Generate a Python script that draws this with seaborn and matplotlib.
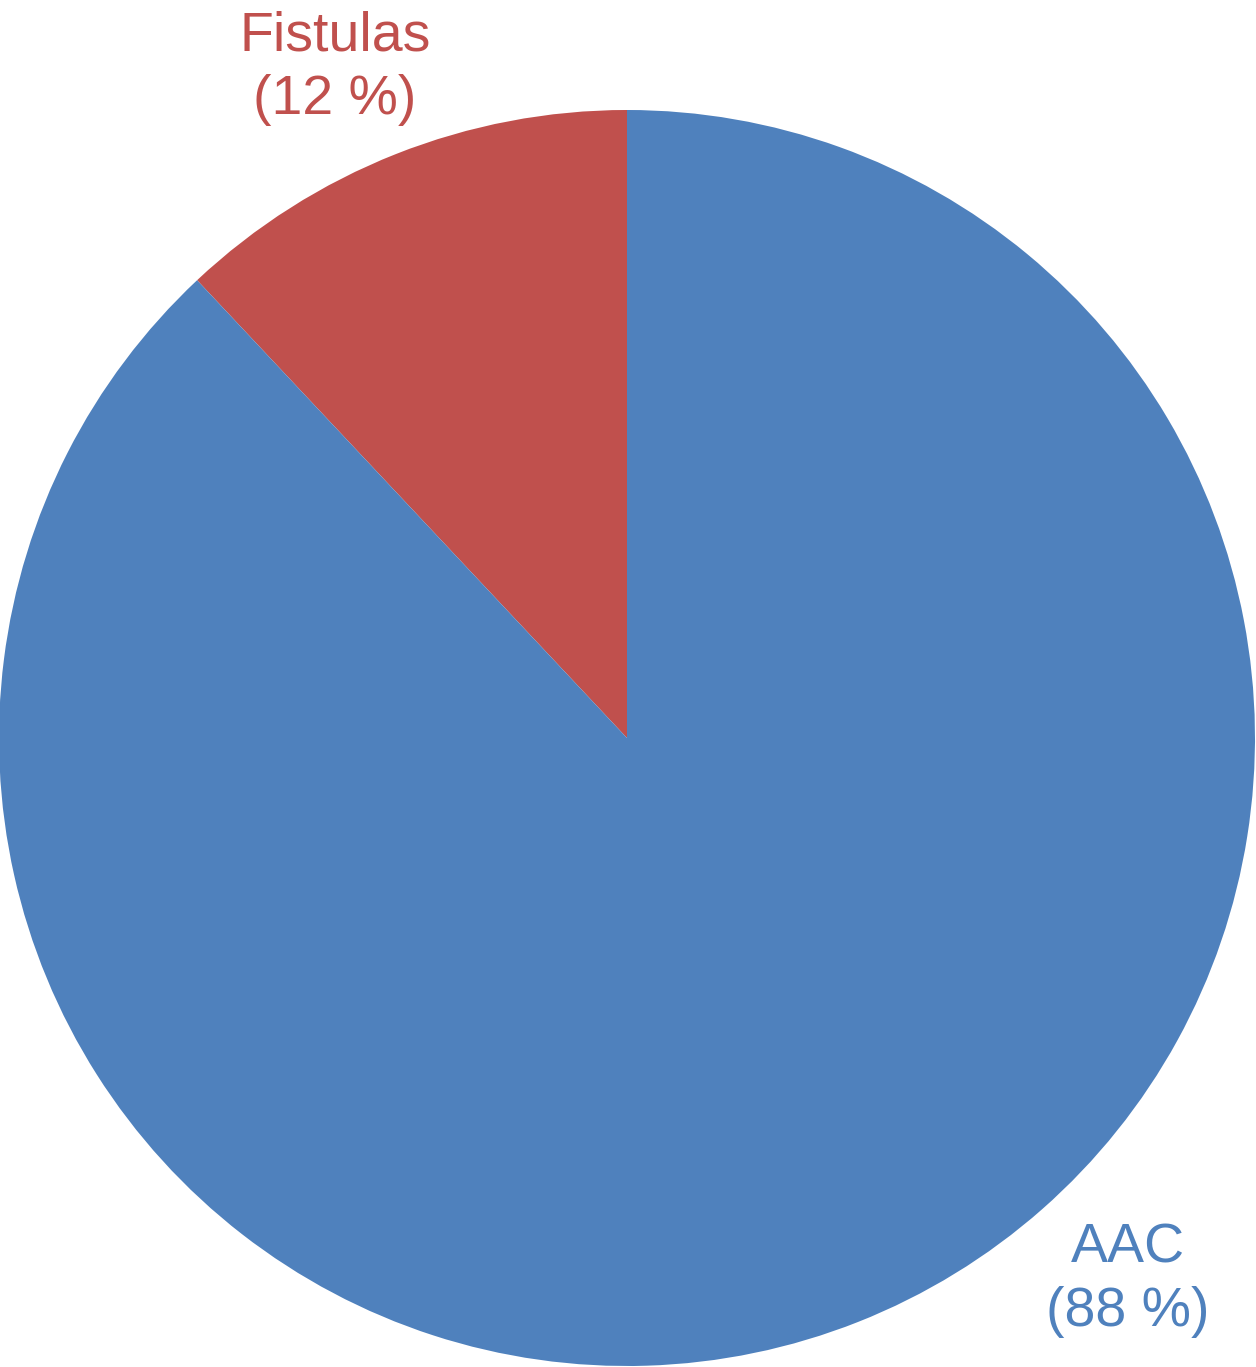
import seaborn as sns
import matplotlib.pyplot as plt

# --- dati ---
categorie = ['Fistulas', 'AAC']
percentuali = [12, 88]
colori = ['#C0504D', '#4F81BD']

sns.set_theme(style='white')
plt.rcParams['font.family'] = ['Liberation Sans', 'DejaVu Sans']

W, H = 1256, 1367
fig = plt.figure(figsize=(W / 100, H / 100), dpi=100)
# cerchio: centro (627, 738) px dall'alto, raggio 628 px
ax = fig.add_axes([-1 / W, 1 / H, 1256 / W, 1256 / H])

ax.pie(percentuali, colors=colori, startangle=90, counterclock=True,
       radius=1, wedgeprops=dict(linewidth=0))
ax.set_xlim(-1, 1)
ax.set_ylim(-1, 1)
ax.set_axis_off()

# posizioni delle etichette (coordinate dati)
pos_etichette = [(-0.465, 1.067), (0.798, -0.863)]
for cat, pct, col, (x, y) in zip(categorie, percentuali, colori, pos_etichette):
    ax.text(x, y, f'{cat}\n({pct} %)', color=col, fontsize=40,
            ha='center', va='center', linespacing=1.28, clip_on=False)

plt.savefig('out.png', dpi=100)
